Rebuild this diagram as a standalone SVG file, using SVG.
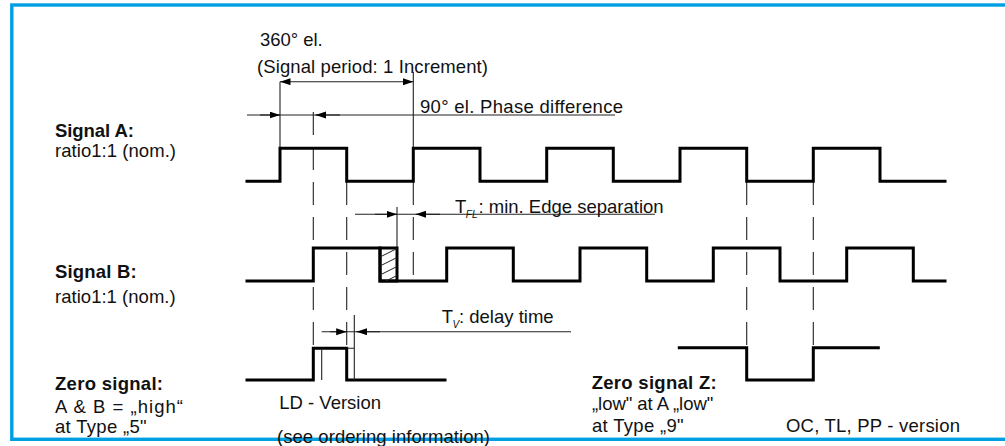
<svg xmlns="http://www.w3.org/2000/svg" width="1005" height="446" viewBox="0 0 1005 446">
<style>
text{font-family:"Liberation Sans",Arial,sans-serif;font-size:18.5px;fill:#111}
.b{font-weight:bold}
.sub{font-size:10px;font-style:italic}
.sig{fill:none;stroke:#000;stroke-width:3;stroke-linejoin:miter;stroke-linecap:square}
.thin{fill:none;stroke:#222;stroke-width:1.1}
.dash{fill:none;stroke:#222;stroke-width:1.1;stroke-dasharray:23 12}
.arr{fill:none;stroke:#222;stroke-width:1.1;marker-end:url(#ah)}
</style>
<defs>
<marker id="ah" markerUnits="userSpaceOnUse" markerWidth="11" markerHeight="8" refX="10.5" refY="3.5" orient="auto-start-reverse">
<path d="M0,0 L10.5,3.5 L0,7 z" fill="#000"/>
</marker>
<clipPath id="hc"><rect x="380" y="248" width="17" height="33"/></clipPath>
</defs>
<rect id="frame" x="11.8" y="5" width="1000" height="434.3" fill="none" stroke="#009FE3" stroke-width="3.4"/>

<g id="connectors">
<line class="thin" x1="280" y1="81.7" x2="413.3" y2="81.7" marker-start="url(#ah)" marker-end="url(#ah)"/>
<line class="thin" x1="280" y1="81.7" x2="280" y2="148"/>
<line class="thin" x1="413.3" y1="72" x2="413.3" y2="148"/>
<line class="thin" x1="247" y1="115" x2="615" y2="115"/>
<line class="arr" x1="260" y1="115" x2="280" y2="115"/>
<line class="arr" x1="340" y1="115" x2="315.5" y2="115"/>
<line class="dash" x1="313.3" y1="112" x2="313.3" y2="348"/>
<line class="dash" x1="346.7" y1="182" x2="346.7" y2="348"/>
<line class="dash" x1="413.3" y1="182" x2="413.3" y2="281"/>
<line class="dash" x1="746.7" y1="182" x2="746.7" y2="347.7"/>
<line class="dash" x1="813.3" y1="182" x2="813.3" y2="347.7"/>
<line class="thin" x1="355" y1="214.3" x2="655" y2="214.3"/>
<line class="arr" x1="375" y1="214.3" x2="397" y2="214.3"/>
<line class="arr" x1="440" y1="214.3" x2="415.7" y2="214.3"/>
<line class="thin" x1="397" y1="207" x2="397" y2="248"/>
<line class="thin" x1="321.7" y1="331.7" x2="571" y2="331.7"/>
<line class="arr" x1="330" y1="331.7" x2="346.7" y2="331.7"/>
<line class="arr" x1="380" y1="331.7" x2="356.5" y2="331.7"/>
</g>

<g id="signalA">
<path class="sig" d="M247,181.3 H280 V148.3 H346.7 V181.3 H413.3 V148.3 H480 V181.3 H546.7 V148.3 H613.3 V181.3 H680 V148.3 H746.7 V181.3 H813.3 V148.3 H880 V181.3 H945"/>
<text class="b" x="55" y="136.7" textLength="79" lengthAdjust="spacing">Signal A:</text>
<text x="55" y="157" textLength="121" lengthAdjust="spacing">ratio1:1 (nom.)</text>
</g>

<g id="signalB">
<path class="sig" d="M247,281 H313.3 V248 H380 V281 H446.7 V248 H513.3 V281 H580 V248 H646.7 V281 H713.3 V248 H780 V281 H846.7 V248 H913.3 V281 H945"/>
<rect class="sig" x="380" y="248" width="17" height="33"/>
<g clip-path="url(#hc)" stroke="#222" stroke-width="1">
<line x1="380" y1="257" x2="397" y2="248.5"/>
<line x1="380" y1="266" x2="397" y2="257.5"/>
<line x1="380" y1="275" x2="397" y2="266.5"/>
<line x1="380" y1="284" x2="397" y2="275.5"/>
</g>
<text class="b" x="55" y="277.7" textLength="81.7" lengthAdjust="spacing">Signal B:</text>
<text x="55" y="303.3" textLength="120.7" lengthAdjust="spacing">ratio1:1 (nom.)</text>
</g>

<g id="zeroLD">
<path class="sig" d="M247,380 H313.3 V348.3 H346.7 V380 H445"/>
<path class="thin" d="M321.7,380 V348.3 M346.7,348.3 H354.3 M354.3,315 V380"/>
<text class="b" x="55" y="389.5" textLength="108" lengthAdjust="spacing">Zero signal:</text>
<text x="55" y="413.3" textLength="128" lengthAdjust="spacing">A &amp; B = „high“</text>
<text x="55" y="433" textLength="91.7" lengthAdjust="spacing">at Type „5"</text>
<text x="279.3" y="409" textLength="101.7" lengthAdjust="spacing">LD - Version</text>
</g>

<g id="zeroZ">
<path class="sig" d="M679.3,347.7 H746.7 V380 H813.3 V347.7 H878.3"/>
<text class="b" x="591.7" y="389" textLength="125" lengthAdjust="spacing">Zero signal Z:</text>
<text x="592" y="410" textLength="121.3" lengthAdjust="spacing">„low" at A „low"</text>
<text x="592" y="432" textLength="91.7" lengthAdjust="spacing">at Type „9"</text>
<text x="786" y="432" textLength="174" lengthAdjust="spacing">OC, TL, PP - version</text>
</g>

<g id="labels">
<text x="260" y="45.7" textLength="62.7" lengthAdjust="spacing">360° el.</text>
<text x="257" y="73.3" textLength="231" lengthAdjust="spacing">(Signal period: 1 Increment)</text>
<text x="420" y="113.3" textLength="203" lengthAdjust="spacing">90° el. Phase difference</text>
<text x="455" y="213.3">T<tspan class="sub" dx="-0.5" dy="5">FL</tspan><tspan dy="-5" x="478.5">: min. Edge separation</tspan></text>
<text x="441.7" y="323.3">T<tspan class="sub" dx="-0.5" dy="5">V</tspan><tspan dy="-5" x="459">: delay time</tspan></text>
<text x="277" y="443" textLength="213" lengthAdjust="spacing">(see ordering information)</text>
</g>
</svg>
